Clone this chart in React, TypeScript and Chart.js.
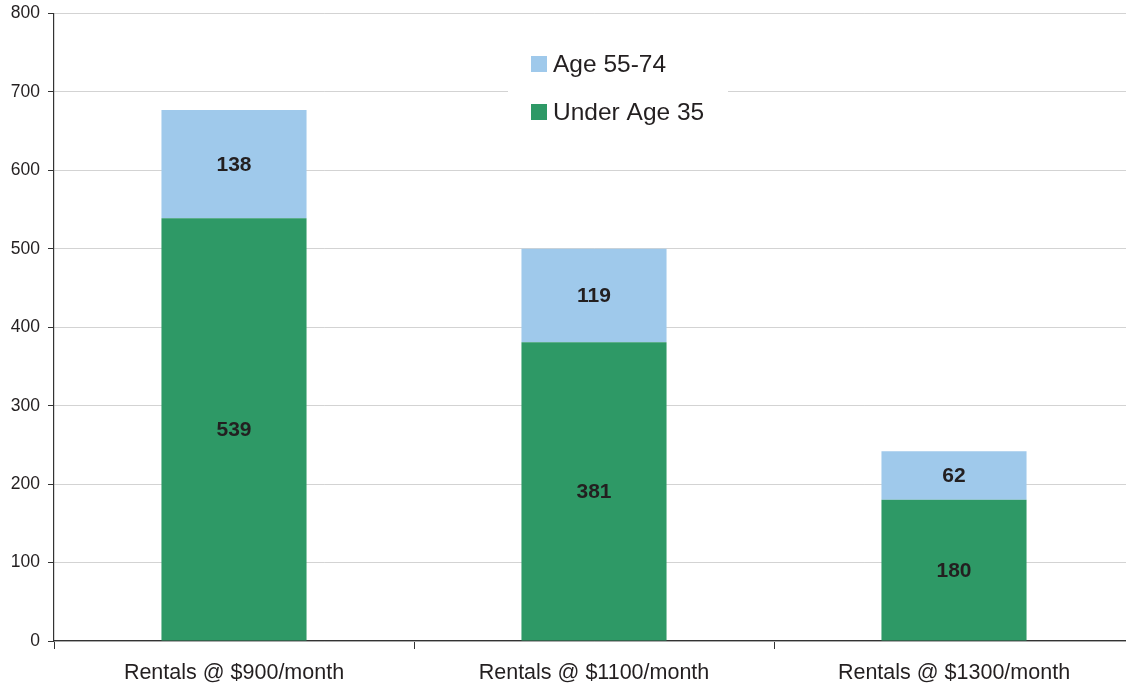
import React, { useEffect, useRef } from "react";
import { Chart, registerables } from "chart.js";

Chart.register(...registerables);

const categories = ["Rentals @ $900/month", "Rentals @ $1100/month", "Rentals @ $1300/month"];
const under35 = [539, 381, 180];
const age5574 = [138, 119, 62];
const yTicks = [0, 100, 200, 300, 400, 500, 600, 700, 800];

const GREEN = "#2E9966";
const BLUE = "#9FC9EB";
const TEXT = "#231F20";
const FONT = "'Liberation Sans', Arial, sans-serif";
const SHIFT = 5;

const valueLabels = {
  id: "valueLabels",
  afterDatasetsDraw(chart: any) {
    const ctx = chart.ctx;
    ctx.save();
    ctx.font = `bold 21px ${FONT}`;
    ctx.fillStyle = TEXT;
    ctx.textAlign = "center";
    ctx.textBaseline = "middle";
    chart.data.datasets.forEach((ds: any, di: number) => {
      const meta = chart.getDatasetMeta(di);
      meta.data.forEach((bar: any, i: number) => {
        const cy = (bar.y + bar.base) / 2;
        ctx.fillText(String(ds.data[i]), bar.x, cy + 1);
      });
    });
    ctx.restore();
  },
};

const customLegend = {
  id: "customLegend",
  afterDraw(chart: any) {
    const ctx = chart.ctx;
    ctx.save();
    ctx.fillStyle = "#ffffff";
    ctx.fillRect(508, 42 + SHIFT, 220, 92);
    const items = [
      { label: "Age 55-74", color: BLUE, y: 64 + SHIFT },
      { label: "Under Age 35", color: GREEN, y: 112 + SHIFT },
    ];
    ctx.font = `24.5px ${FONT}`;
    ctx.textBaseline = "middle";
    ctx.textAlign = "left";
    items.forEach((it) => {
      ctx.fillStyle = it.color;
      ctx.fillRect(531, it.y - 8, 16, 16);
      ctx.fillStyle = TEXT;
      ctx.fillText(it.label, 553, it.y + 1);
    });
    ctx.restore();
  },
};

export default function App() {
  const ref = useRef<HTMLCanvasElement>(null);
  useEffect(() => {
    if (!ref.current) return;
    const chart = new Chart(ref.current, {
      type: "bar",
      data: {
        labels: categories,
        datasets: [
          { label: "Under Age 35", data: under35, backgroundColor: GREEN, barPercentage: 0.403, categoryPercentage: 1 },
          { label: "Age 55-74", data: age5574, backgroundColor: BLUE, barPercentage: 0.403, categoryPercentage: 1 },
        ],
      },
      options: {
        responsive: false,
        animation: false,
        layout: { padding: { top: 8, right: 0, left: 0, bottom: 0 } },
        plugins: { legend: { display: false }, tooltip: { enabled: false } },
        scales: {
          x: {
            stacked: true,
            grid: { display: true, drawOnChartArea: false, tickLength: 8, color: "#333", tickColor: "#333", offset: true },
            border: { color: "#333", width: 1.2 },
            ticks: { color: TEXT, font: { family: FONT, size: 21.5 }, padding: 11, maxRotation: 0 },
            afterFit: (s: any) => { s.height = 46; },
          },
          y: {
            stacked: true,
            min: 0,
            max: 800,
            afterBuildTicks: (s: any) => { s.ticks = yTicks.map((v) => ({ value: v })); },
            grid: { color: "#d3d3d3", tickColor: "#333", tickLength: 6 },
            border: { color: "#333", width: 1.2 },
            ticks: { color: TEXT, font: { family: FONT, size: 17.5 }, padding: 8 },
            afterFit: (s: any) => { s.width = 54; },
          },
        },
      },
      plugins: [valueLabels, customLegend],
    });
    return () => chart.destroy();
  }, []);
  return (
    <div style={{ position: "absolute", left: 0, top: 0, width: 1126, height: 687, overflow: "hidden", background: "#fff" }}>
      <canvas ref={ref} width={1134} height={687 + SHIFT} style={{ display: "block", marginTop: -SHIFT }} />
    </div>
  );
}
